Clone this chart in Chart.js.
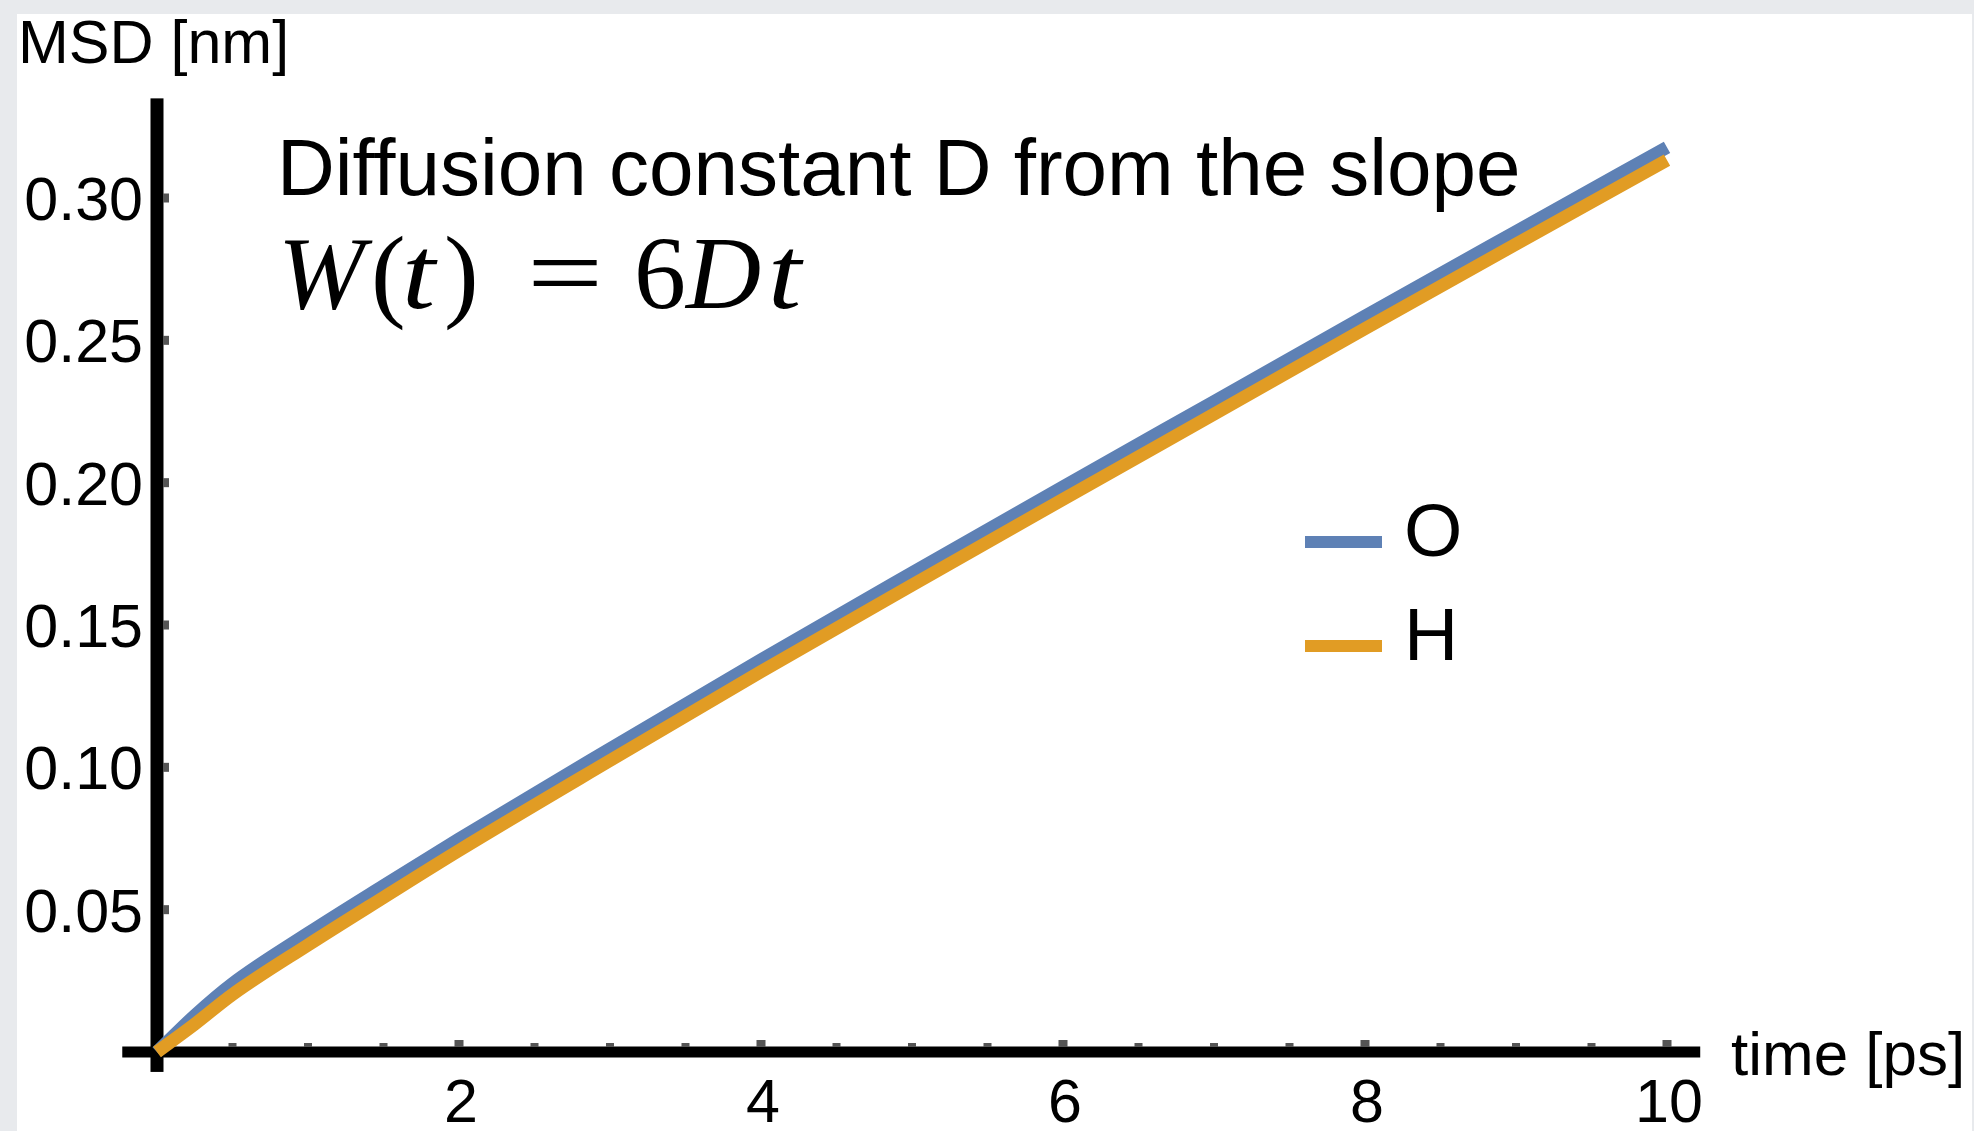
<!DOCTYPE html>
<html lang="en">
<head>
    <meta charset="UTF-8">
    <title>MSD vs time</title>
    <script src="https://cdn.jsdelivr.net/npm/chart.js"></script>
    <style>
        html, body { margin: 0; padding: 0; overflow: hidden; background: #e8eaed; }
        .wrap { position: absolute; left: 0; top: 0; width: 1974px; height: 1131px; }
    </style>
</head>
<body>
    <div class="wrap"><canvas id="msdChart"></canvas></div>

    <script>
        // time axis [ps] and mean square displacement [nm] for oxygen and hydrogen
        const times = [0, 0.25, 0.5, 1, 1.5, 2, 3, 4, 5, 6, 7, 8, 9, 10];
        const msdO = [0, 0.0128, 0.0240, 0.0417, 0.0584, 0.0748, 0.1065, 0.1378, 0.1683, 0.1985, 0.2285, 0.2585, 0.2882, 0.3178];
        const msdH = [0, 0.0098, 0.0202, 0.0376, 0.0543, 0.0708, 0.1024, 0.1336, 0.164, 0.1941, 0.2241, 0.2541, 0.2838, 0.3133];
        const seriesNames = ['O', 'H'];
        const seriesColors = ['#5e81b5', '#e19c24'];

        const xTicks = [2, 4, 6, 8, 10];
        const xMinorTicks = [0.5, 1, 1.5, 2.5, 3, 3.5, 4.5, 5, 5.5, 6.5, 7, 7.5, 8.5, 9, 9.5];
        const yTicks = [0.05, 0.10, 0.15, 0.20, 0.25, 0.30];

        const sans = '"Liberation Sans", Arial, sans-serif';
        const serif = '"Liberation Serif", "Times New Roman", serif';

        // frame, white page
        const pagePlugin = {
            id: 'page',
            beforeDraw(chart) {
                const ctx = chart.ctx;
                ctx.save();
                ctx.fillStyle = '#e8eaed';
                ctx.fillRect(0, 0, chart.width, chart.height);
                ctx.fillStyle = '#ffffff';
                ctx.fillRect(17, 14, 1955, chart.height - 14);
                ctx.restore();
            }
        };

        // Mathematica-style axes crossing at the origin, ticks drawn inside
        const axesPlugin = {
            id: 'axes',
            beforeDatasetsDraw(chart) {
                const ctx = chart.ctx;
                const xs = chart.scales.x, ys = chart.scales.y;
                const x0 = xs.getPixelForValue(0), y0 = ys.getPixelForValue(0);
                ctx.save();

                ctx.fillStyle = '#000';
                // x axis
                ctx.fillRect(xs.getPixelForValue(-0.23), y0 - 5.5, xs.getPixelForValue(10.22) - xs.getPixelForValue(-0.23), 11);
                // y axis
                ctx.fillRect(x0 - 6.5, ys.getPixelForValue(0.335), 13, ys.getPixelForValue(-0.007) - ys.getPixelForValue(0.335));

                ctx.fillStyle = '#555';
                xMinorTicks.forEach(v => {
                    const px = xs.getPixelForValue(v);
                    ctx.fillRect(px - 4, y0 - 9, 8, 4);
                });
                xTicks.forEach(v => {
                    const px = xs.getPixelForValue(v);
                    ctx.fillRect(px - 4.5, y0 - 12, 9, 7);
                });
                yTicks.forEach(v => {
                    const py = ys.getPixelForValue(v);
                    ctx.fillRect(x0 + 6, py - 4.5, 6, 9);
                });

                // tick labels
                ctx.fillStyle = '#000';
                ctx.font = '61px ' + sans;
                ctx.textAlign = 'right';
                ctx.textBaseline = 'alphabetic';
                yTicks.forEach(v => {
                    ctx.fillText(v.toFixed(2), x0 - 14, ys.getPixelForValue(v) + 22);
                });
                ctx.textAlign = 'center';
                xTicks.forEach(v => {
                    ctx.fillText(String(v), xs.getPixelForValue(v) + 2, y0 + 70);
                });

                // axis labels
                ctx.textAlign = 'left';
                ctx.fillText('MSD [nm]', 18, 63);
                ctx.font = '62px ' + sans;
                ctx.fillText('time [ps]', 1731, 1075);
                ctx.restore();
            },
            afterDatasetsDraw(chart) {
                const ctx = chart.ctx;
                ctx.save();
                ctx.fillStyle = '#000';
                ctx.textBaseline = 'alphabetic';
                ctx.textAlign = 'left';
                ctx.font = '80px ' + sans;
                ctx.fillText('Diffusion constant D from the slope', 277, 195);

                // W(t) = 6Dt, glyph by glyph: [text, italic, left x, horizontal stretch]
                const parts = [
                    ['W', true, 278, 1], ['(', false, 371, 1], ['t', true, 402, 1.15], [')', false, 444, 1],
                    ['=', false, 527, 1.3], ['6', false, 634, 1], ['D', true, 686, 1], ['t', true, 768, 1.15]
                ];
                parts.forEach(([s, it, x, sx]) => {
                    ctx.save();
                    ctx.font = (it ? 'italic ' : '') + '104px ' + serif;
                    ctx.translate(x, 308);
                    ctx.scale(sx, 1);
                    ctx.fillText(s, 0, 0);
                    ctx.restore();
                });

                // legend
                const rows = [542, 646];
                chart.data.datasets.forEach((ds, i) => {
                    ctx.fillStyle = ds.borderColor;
                    ctx.fillRect(1305, rows[i] - 6, 77, 12);
                    ctx.fillStyle = '#000';
                    ctx.font = '75px ' + sans;
                    ctx.fillText(ds.label, 1404, rows[i] + 14);
                });
                ctx.restore();
            }
        };

        new Chart(document.getElementById('msdChart'), {
            type: 'line',
            data: {
                labels: times,
                datasets: [
                    {
                        label: seriesNames[0],
                        data: times.map((t, i) => ({ x: t, y: msdO[i] })),
                        borderColor: seriesColors[0],
                        order: 1
                    },
                    {
                        label: seriesNames[1],
                        data: times.map((t, i) => ({ x: t, y: msdH[i] })),
                        borderColor: seriesColors[1],
                        order: 0
                    }
                ]
            },
            options: {
                responsive: true,
                maintainAspectRatio: false,
                animation: false,
                layout: { padding: { left: 157, right: 307, top: 198, bottom: 79 } },
                elements: {
                    point: { radius: 0 },
                    line: { borderWidth: 13, borderCapStyle: 'butt', cubicInterpolationMode: 'monotone', fill: false }
                },
                datasets: { line: { clip: false } },
                plugins: { legend: { display: false }, tooltip: { enabled: false } },
                scales: {
                    x: { type: 'linear', min: 0, max: 10, display: false },
                    y: { type: 'linear', min: 0, max: 0.30, display: false }
                }
            },
            plugins: [pagePlugin, axesPlugin]
        });
    </script>
</body>
</html>
